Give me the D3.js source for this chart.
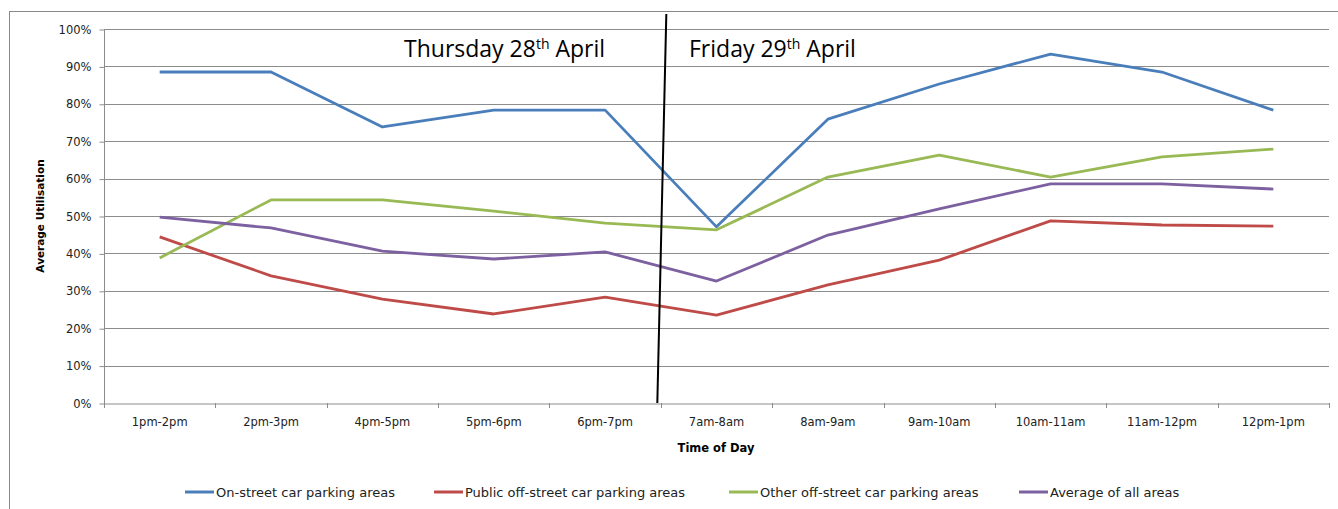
<!DOCTYPE html>
<html><head><meta charset="utf-8">
<script src="https://cdn.jsdelivr.net/npm/d3@7"></script>
<style>body{margin:0;background:#fff}svg{display:block}</style>
</head><body>
<svg id="c" width="1338" height="509"></svg>
<script>
const categories = ["1pm-2pm","2pm-3pm","4pm-5pm","5pm-6pm","6pm-7pm","7am-8am","8am-9am","9am-10am","10am-11am","11am-12pm","12pm-1pm"];
const onStreet = [88.5, 88.5, 73.8, 78.3, 78.3, 47.1, 75.9, 85.3, 93.3, 88.5, 78.3];
const publicOff = [44.4, 34.0, 27.8, 23.8, 28.3, 23.5, 31.6, 38.2, 48.7, 47.6, 47.3];
const otherOff = [38.8, 54.3, 54.3, 51.3, 48.1, 46.3, 60.4, 66.3, 60.4, 65.8, 67.9];
const averageAll = [49.7, 46.8, 40.6, 38.5, 40.4, 32.6, 44.9, 51.9, 58.6, 58.6, 57.2];
const seriesNames = ["On-street car parking areas","Public off-street car parking areas","Other off-street car parking areas","Average of all areas"];
const seriesColors = ["#4A7EBB","#BE4B48","#98B954","#7D60A0"];
const yTicks = [0,10,20,30,40,50,60,70,80,90,100];
const dayLabels = [{main:"Thursday 28",sup:"th",rest:" April"},{main:"Friday 29",sup:"th",rest:" April"}];

const series = [onStreet, publicOff, otherOff, averageAll];
const svg = d3.select("#c");
const L = 104, R = 1329, T = 29, B = 403;
const x = d3.scaleBand().domain(categories).range([L, R]);
const y = d3.scaleLinear().domain([0, 100]).range([B, T]);
const tickFont = "'DejaVu Sans', sans-serif";

// outer border
svg.append("rect").attr("x", 9.5).attr("y", 11.5).attr("width", 1400).attr("height", 520)
  .attr("fill", "none").attr("stroke", "#888").attr("stroke-width", 1);

// gridlines
svg.append("g").selectAll("line").data(yTicks.filter(d => d > 0)).join("line")
  .attr("x1", L).attr("x2", R).attr("y1", d => Math.round(y(d)) + 0.5).attr("y2", d => Math.round(y(d)) + 0.5)
  .attr("stroke", "#8c8c8c").attr("stroke-width", 1);

// y axis
const yAxis = svg.append("g").attr("transform", `translate(${L + 0.5},0.5)`)
  .call(d3.axisLeft(y).tickValues(yTicks).tickFormat(d => d + "%").tickSize(5).tickPadding(8));
yAxis.select(".domain").attr("stroke", "#8c8c8c").attr("d", `M0,${T}V${B}`);
yAxis.selectAll(".tick line").attr("stroke", "#8c8c8c");
yAxis.selectAll("text").attr("font-family", tickFont).attr("font-size", 11.5).attr("fill", "#222");

// x axis
const xAxis = svg.append("g").attr("transform", `translate(0,${B + 0.5})`)
  .call(d3.axisBottom(x).tickSize(0).tickPadding(14));
xAxis.select(".domain").attr("stroke", "#8c8c8c");
xAxis.selectAll("text").attr("font-family", tickFont).attr("font-size", 11.5).attr("fill", "#222");
const bounds = categories.map(c => x(c)).concat([x(categories[categories.length - 1]) + x.bandwidth()]);
svg.append("g").selectAll("line").data(bounds).join("line")
  .attr("x1", d => Math.round(d) + 0.5).attr("x2", d => Math.round(d) + 0.5)
  .attr("y1", B).attr("y2", B + 5).attr("stroke", "#8c8c8c");

// lines
const line = d3.line().x((d, i) => x(categories[i]) + x.bandwidth() / 2).y(d => y(d));
svg.append("g").selectAll("path").data(series).join("path")
  .attr("d", d => line(d)).attr("fill", "none")
  .attr("stroke", (d, i) => seriesColors[i]).attr("stroke-width", 2.8)
  .attr("stroke-linejoin", "round");

// divider line between days
const boundary = x(categories[5]);
svg.append("line").attr("x1", boundary + 5.5).attr("y1", y(100) - 15)
  .attr("x2", boundary - 3.5).attr("y2", B)
  .attr("stroke", "#000").attr("stroke-width", 2);

// day labels
const dayX = [404, 689];
dayLabels.forEach((d, i) => {
  const t = svg.append("text").attr("x", dayX[i]).attr("y", 57)
    .attr("font-family", "'Open Sans', sans-serif").attr("font-size", 23).attr("fill", "#000");
  t.append("tspan").text(d.main);
  t.append("tspan").attr("dy", -8).attr("font-size", 14).text(d.sup);
  t.append("tspan").attr("dy", 8).text(d.rest);
});

// axis titles
svg.append("text").attr("transform", `translate(44,216) rotate(-90)`).attr("text-anchor", "middle")
  .attr("font-family", tickFont).attr("font-weight", "bold").attr("font-size", 10.5).attr("fill", "#000")
  .text("Average Utilisation");
svg.append("text").attr("x", 716).attr("y", 452).attr("text-anchor", "middle")
  .attr("font-family", tickFont).attr("font-weight", "bold").attr("font-size", 11.5).attr("fill", "#000")
  .text("Time of Day");

// legend
const legX = [216, 465, 760, 1050];
const leg = svg.append("g").selectAll("g").data(seriesNames).join("g")
  .attr("transform", (d, i) => `translate(${legX[i]},492)`);
leg.append("line").attr("x1", -31).attr("x2", -2).attr("y1", 0).attr("y2", 0)
  .attr("stroke", (d, i) => seriesColors[i]).attr("stroke-width", 3);
leg.append("text").attr("x", 0).attr("y", 4.5)
  .attr("font-family", tickFont).attr("font-size", 13).attr("fill", "#222")
  .text(d => d);
</script>
</body></html>
